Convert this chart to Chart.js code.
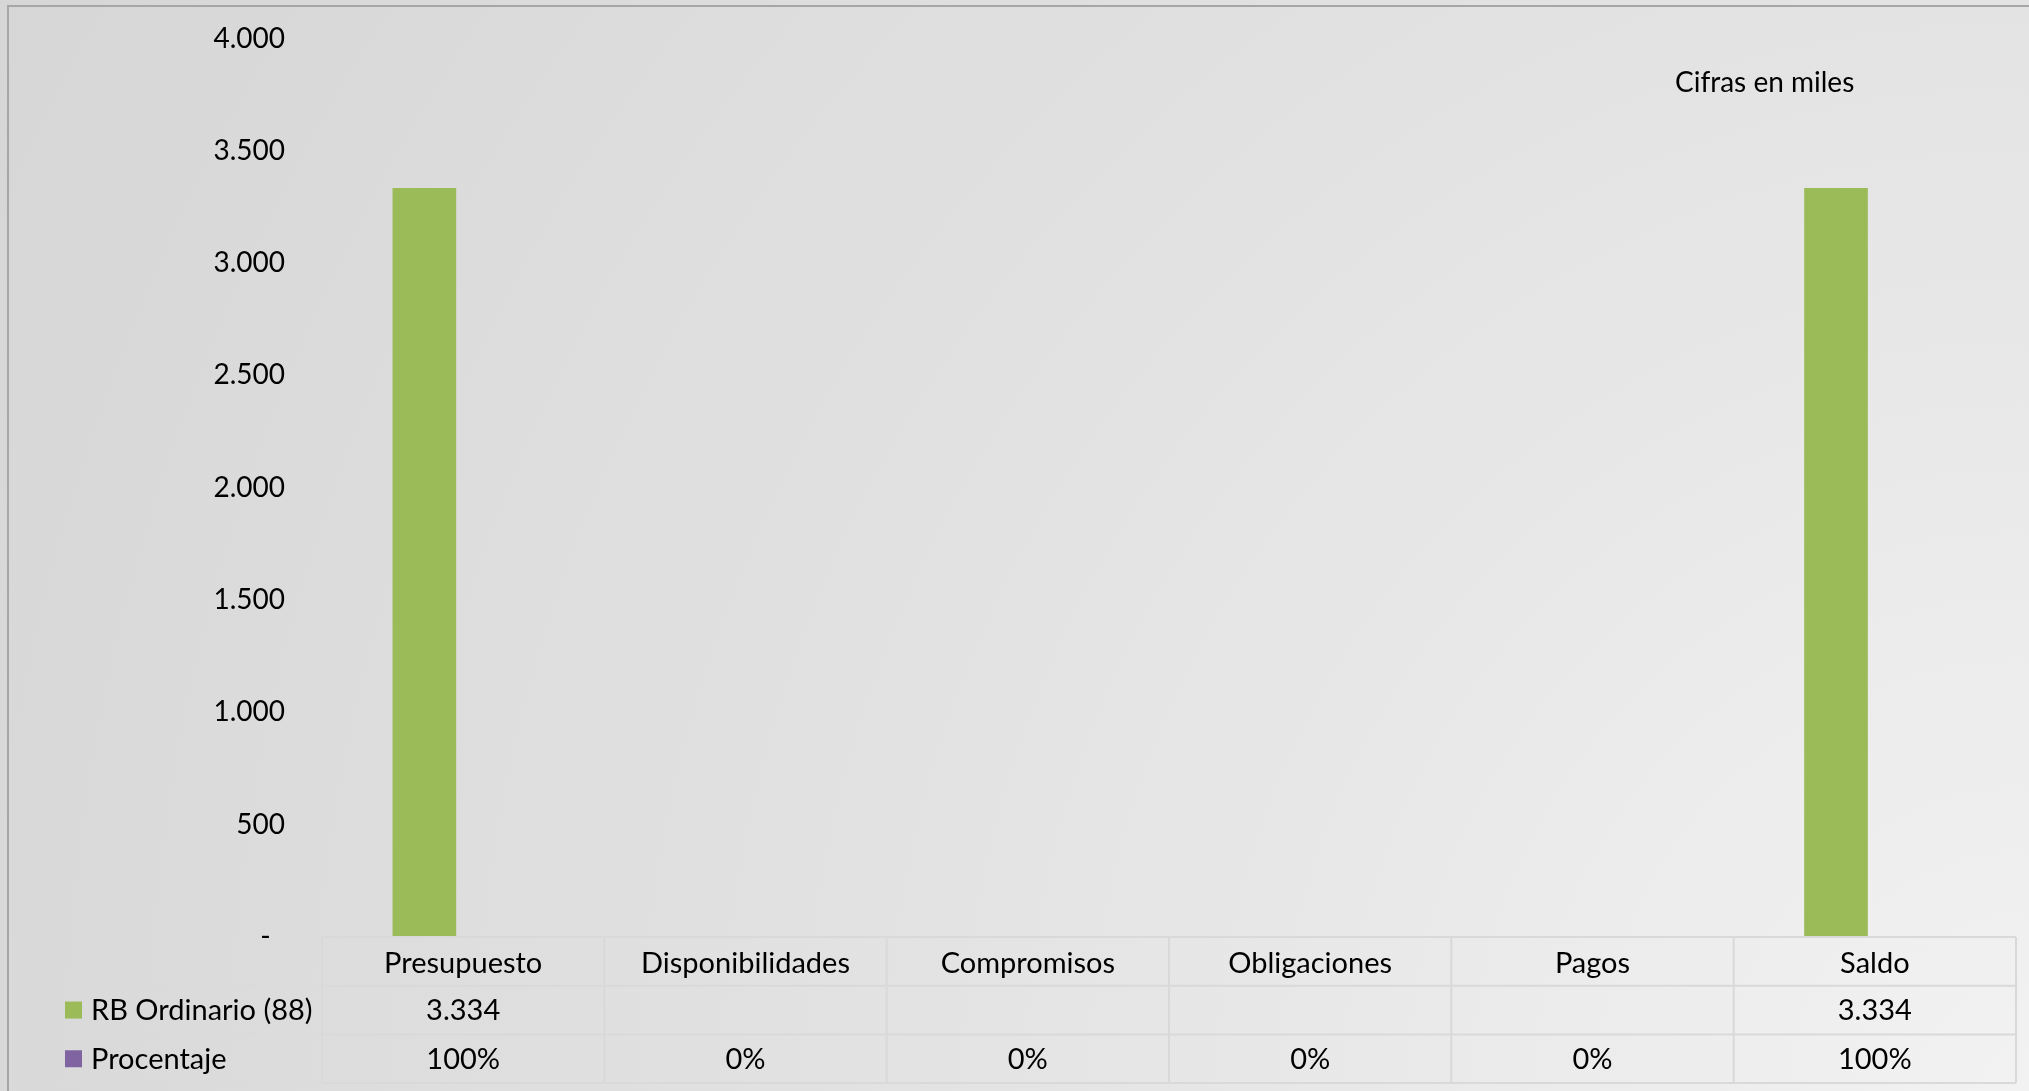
<!DOCTYPE html>
<html>
<head>
<meta charset="utf-8">
<script src="https://cdn.jsdelivr.net/npm/chart.js@4.4.1/dist/chart.umd.min.js"></script>
<style>
  html, body {
    margin: 0;
    padding: 0;
    width: 2029px;
    height: 1091px;
    overflow: hidden;
  }
  body {
    background: radial-gradient(circle at 100% 100%, #f2f2f2 0px, #e3e3e3 1091px, #d9d9d9 2029px, #d6d6d6 2310px);
  }
  #frame {
    position: absolute;
    left: 7px;
    top: 5px;
    width: 2100px;
    height: 1200px;
    border: 2px solid #a6a6a6;
  }
  #wrap {
    position: absolute;
    left: 0;
    top: 0;
    width: 2029px;
    height: 1091px;
  }
</style>
</head>
<body>
<div id="frame"></div>
<div id="wrap"><canvas id="chart"></canvas></div>
<script>
// data
const categories = ["Presupuesto", "Disponibilidades", "Compromisos", "Obligaciones", "Pagos", "Saldo"];
const seriesNames = ["RB Ordinario (88)", "Procentaje"];
const rbOrdinario = [3334, null, null, null, null, 3334];
const procentaje = [1, 0, 0, 0, 0, 1];
const yTicks = [0, 500, 1000, 1500, 2000, 2500, 3000, 3500, 4000];
const note = "Cifras en miles";

const green = "#9bbb59";
const purple = "#8064a2";
const fontFam = "Lato, 'Open Sans', sans-serif";

function miles(v) {
  if (v === null || v === undefined) return "";
  return String(v).replace(/\B(?=(\d{3})+(?!\d))/g, ".");
}
function pct(v) {
  return Math.round(v * 100) + "%";
}

// draws the data table under the plot + the note
const tablePlugin = {
  id: "dataTable",
  afterDraw(chart) {
    const ctx = chart.ctx;
    const x = chart.scales.x;
    const area = chart.chartArea;
    const colW = (x.right - x.left) / categories.length;
    const rowH = 48.7;
    const top = area.bottom;
    const legendLeft = 56;

    ctx.save();
    ctx.strokeStyle = "#d9d9d9";
    ctx.lineWidth = 2;

    // table lines under the categories
    ctx.beginPath();
    for (let r = 0; r <= 3; r++) {
      const yy = top + rowH * r;
      ctx.moveTo(x.left, yy);
      ctx.lineTo(x.right, yy);
    }
    for (let c = 0; c <= categories.length; c++) {
      const xx = x.left + colW * c;
      ctx.moveTo(xx, top);
      ctx.lineTo(xx, top + rowH * 3);
    }
    ctx.stroke();

    // legend cells, very faint
    ctx.strokeStyle = "#dadada";
    ctx.lineWidth = 1;
    ctx.beginPath();
    for (let r = 1; r <= 3; r++) {
      ctx.moveTo(legendLeft, top + rowH * r);
      ctx.lineTo(x.left, top + rowH * r);
    }
    ctx.moveTo(legendLeft, top + rowH);
    ctx.lineTo(legendLeft, top + rowH * 3);
    ctx.stroke();

    ctx.fillStyle = "#000";
    ctx.font = "29px " + fontFam;
    ctx.textBaseline = "middle";
    ctx.textAlign = "center";

    categories.forEach((cat, i) => {
      const cx = x.getPixelForValue(i);
      ctx.fillText(cat, cx, top + rowH * 0.5 + 2);
      ctx.fillText(miles(rbOrdinario[i]), cx, top + rowH * 1.5 + 1);
      ctx.fillText(pct(procentaje[i]), cx, top + rowH * 2.5 + 1);
    });

    // legend keys
    const keyColors = [green, purple];
    ctx.textAlign = "left";
    seriesNames.forEach((name, i) => {
      const cy = top + rowH * (1.5 + i);
      ctx.fillStyle = keyColors[i];
      ctx.fillRect(65, cy - 8.5, 17, 17);
      ctx.fillStyle = "#000";
      ctx.fillText(name, 91, cy + 1);
    });

    ctx.font = "28px " + fontFam;
    ctx.fillText(note, 1675, 83);
    ctx.restore();
  }
};

new Chart(document.getElementById("chart"), {
  type: "bar",
  data: {
    labels: categories,
    datasets: [
      {
        label: seriesNames[0],
        data: rbOrdinario,
        backgroundColor: green,
        categoryPercentage: 0.55,
        barPercentage: 0.82
      },
      {
        label: seriesNames[1],
        data: procentaje,
        backgroundColor: purple,
        categoryPercentage: 0.55,
        barPercentage: 0.82
      }
    ]
  },
  options: {
    responsive: true,
    maintainAspectRatio: false,
    animation: false,
    devicePixelRatio: 1,
    layout: {
      padding: { left: 0, top: 38.5, right: 13, bottom: 154 }
    },
    plugins: {
      legend: { display: false },
      tooltip: { enabled: false }
    },
    scales: {
      x: {
        display: false
      },
      y: {
        min: 0,
        max: 4000,
        afterFit(scale) {
          scale.width = 322;
          // tick padding would otherwise push the plot down
          scale.paddingTop = 0;
          scale.paddingBottom = 0;
        },
        afterBuildTicks(scale) { scale.ticks = yTicks.map(v => ({ value: v })); },
        border: { display: false },
        grid: { display: false, drawTicks: false },
        ticks: {
          padding: 37,
          color: "#000",
          font: { family: fontFam, size: 28 },
          callback: v => v === 0 ? "-  " : miles(v)
        }
      }
    }
  },
  plugins: [tablePlugin]
});
</script>
</body>
</html>
